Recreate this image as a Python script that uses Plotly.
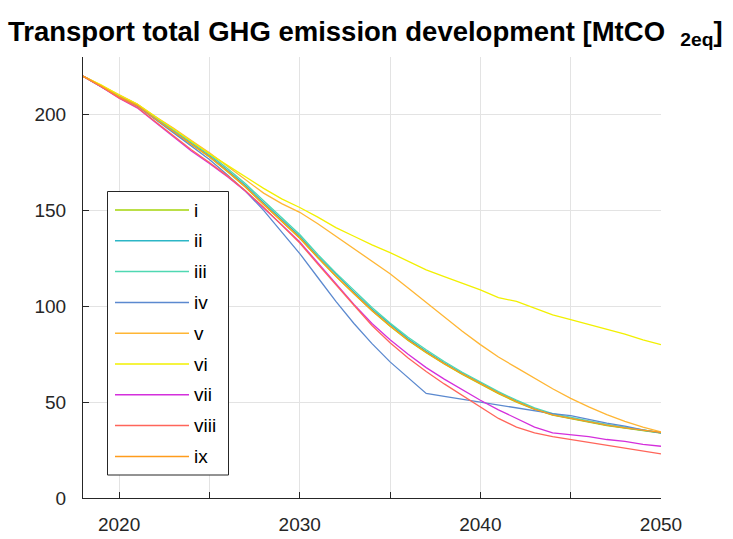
import plotly.graph_objects as go

# Scenario trajectories of total transport GHG emissions, MtCO2eq per year
years = list(range(2018, 2051))

series_names = ["i", "ii", "iii", "iv", "v", "vi", "vii", "viii", "ix"]

s_i = [220, 214.8, 209.2, 204.6, 197.6, 191.0, 184.4, 177.8, 170.2, 162.0, 153.0,
       144.0, 135.5, 125.3, 115.6, 106.5, 97.6, 89.6, 82.2, 75.8, 69.9, 64.5, 59.3,
       54.4, 50.0, 46.2, 43.2, 41.3, 39.5, 37.8, 36.4, 35.0, 33.8]
s_ii = [220, 215.0, 209.5, 205.0, 198.0, 191.5, 185.0, 178.5, 171.0, 163.0, 154.0,
        145.0, 136.5, 126.0, 116.5, 107.5, 98.5, 90.5, 83.0, 76.5, 70.5, 65.0, 60.0,
        55.0, 50.5, 46.5, 43.5, 41.5, 39.8, 38.0, 36.6, 35.2, 34.0]
s_iii = [220, 215.1, 209.7, 205.3, 198.4, 192.0, 185.6, 179.2, 171.8, 163.9, 155.0,
         146.0, 137.4, 127.0, 117.4, 108.4, 99.4, 91.3, 83.8, 77.3, 71.2, 65.6, 60.5,
         55.5, 51.0, 47.0, 44.0, 42.0, 40.2, 38.4, 36.9, 35.4, 34.1]
s_iv = [220, 214.6, 209.0, 204.5, 197.5, 190.5, 183.5, 176.5, 168.5, 160.0, 150.0,
        139.0, 127.5, 115.0, 102.5, 91.0, 80.5, 71.0, 62.5, 54.5, 53.0, 51.5, 50.0,
        48.5, 47.0, 45.5, 44.0, 43.0, 41.0, 39.0, 37.5, 35.5, 34.0]
s_v = [220, 215.2, 210.0, 205.5, 199.0, 193.0, 186.5, 180.0, 173.0, 166.0, 159.0,
       153.5, 149.0, 143.0, 136.5, 130.0, 123.5, 117.0, 109.5, 102.0, 94.5, 87.0, 80.0,
       73.5, 68.0, 62.5, 57.0, 52.0, 47.5, 43.5, 40.0, 37.0, 34.5]
s_vi = [220, 215.5, 210.2, 205.5, 199.0, 192.5, 186.0, 179.5, 173.5, 167.5, 161.5,
        156.0, 151.5, 146.5, 141.0, 136.5, 132.0, 128.0, 123.5, 119.0, 115.5, 112.0, 108.5,
        104.5, 102.5, 99.0, 95.5, 93.0, 90.5, 88.0, 85.5, 82.5, 80.0]
s_vii = [220, 214.5, 208.5, 203.5, 196.0, 188.5, 181.0, 174.5, 167.5, 160.0, 151.5,
         142.5, 133.5, 122.5, 111.5, 101.0, 91.0, 82.5, 75.0, 68.0, 62.0, 56.5, 51.0,
         46.0, 41.5, 37.0, 34.0, 33.0, 32.0, 30.5, 29.5, 28.0, 27.0]
s_viii = [220, 214.6, 208.7, 203.8, 196.4, 189.0, 181.6, 175.0, 168.0, 160.3, 151.6,
          142.3, 133.0, 122.0, 111.0, 100.5, 90.0, 81.0, 73.0, 66.0, 59.5, 53.5, 47.5,
          41.5, 37.0, 34.0, 32.0, 30.5, 29.0, 27.5, 26.0, 24.5, 23.0]
s_ix = [220, 214.9, 209.3, 204.8, 197.8, 191.2, 184.6, 178.0, 170.4, 162.2, 153.2,
        144.2, 135.7, 125.5, 115.8, 106.7, 97.8, 89.8, 82.4, 76.0, 70.1, 64.7, 59.6,
        54.7, 50.3, 46.4, 43.4, 41.5, 39.7, 38.0, 36.6, 35.3, 34.2]

series_values = [s_i, s_ii, s_iii, s_iv, s_v, s_vi, s_vii, s_viii, s_ix]
series_colors = ["#a5d40a", "#2cb6c6", "#4fd8b2", "#5b89cf", "#ffb634",
                 "#f2f000", "#d42fdc", "#ff655a", "#ff9c1c"]

y_tick_vals = [0, 50, 100, 150, 200]

W, H = 733, 539
L, R, T, B = 83, 661, 57, 498  # plot area in pixels

fig = go.Figure()
for name, vals, col in zip(series_names, series_values, series_colors):
    fig.add_trace(go.Scatter(x=years, y=vals, mode="lines", name=name,
                             line=dict(color=col, width=1.3), showlegend=False))

axis_col = "#262626"
grid_col = "#e3e3e3"
font_main = "Liberation Sans, Arial, Helvetica, sans-serif"

fig.update_xaxes(range=[2018, 2050], tick0=2020, dtick=10, automargin=False,
                 showgrid=True, gridcolor=grid_col, gridwidth=1,
                 minor=dict(tick0=2020, dtick=5, ticks="inside", ticklen=6,
                            tickcolor=axis_col, showgrid=True, gridcolor=grid_col,
                            gridwidth=1),
                 showline=True, linecolor=axis_col, linewidth=1,
                 ticks="inside", ticklen=6, tickcolor=axis_col,
                 ticklabelstandoff=9,
                 tickfont=dict(size=19, color=axis_col), zeroline=False)
fig.update_yaxes(range=[0, 230], tickvals=y_tick_vals, automargin=False,
                 showgrid=True, gridcolor=grid_col, gridwidth=1,
                 showline=True, linecolor=axis_col, linewidth=1,
                 ticks="inside", ticklen=6, tickcolor=axis_col,
                 ticklabelstandoff=12,
                 tickfont=dict(size=19, color=axis_col), zeroline=False)


def px_x(p):
    return (p - L) / (R - L)


def px_y(p):
    return (B - p) / (B - T)


# hand-built legend box with line samples
shapes = [dict(type="rect", xref="paper", yref="paper",
               x0=px_x(107.5), x1=px_x(228.5), y0=px_y(475), y1=px_y(191.5),
               line=dict(color=axis_col, width=1), fillcolor="white", layer="above")]
annotations = []
for k, (name, col) in enumerate(zip(series_names, series_colors)):
    yy = 210 + k * 30.8
    shapes.append(dict(type="line", xref="paper", yref="paper",
                       x0=px_x(115), x1=px_x(189), y0=px_y(yy), y1=px_y(yy),
                       line=dict(color=col, width=1.5), layer="above"))
    annotations.append(dict(xref="paper", yref="paper", x=px_x(192), y=px_y(yy),
                            text=name, showarrow=False, xanchor="left",
                            yanchor="middle",
                            font=dict(size=19, color="#000000", family=font_main)))

fig.update_layout(
    width=W, height=H,
    margin=dict(l=L, r=W - R, t=T, b=H - B),
    paper_bgcolor="white", plot_bgcolor="white",
    font=dict(family=font_main, color=axis_col),
    title=dict(text="<b>Transport total GHG emission development [MtCO  <sub>2eq</sub>]</b>",
               x=8 / W, xanchor="left", y=1 - 31 / H, yanchor="middle",
               xref="container", yref="container", automargin=False,
               font=dict(size=27.5, color="#000000", family=font_main)),
    shapes=shapes, annotations=annotations,
)

fig.write_html("out.html")
